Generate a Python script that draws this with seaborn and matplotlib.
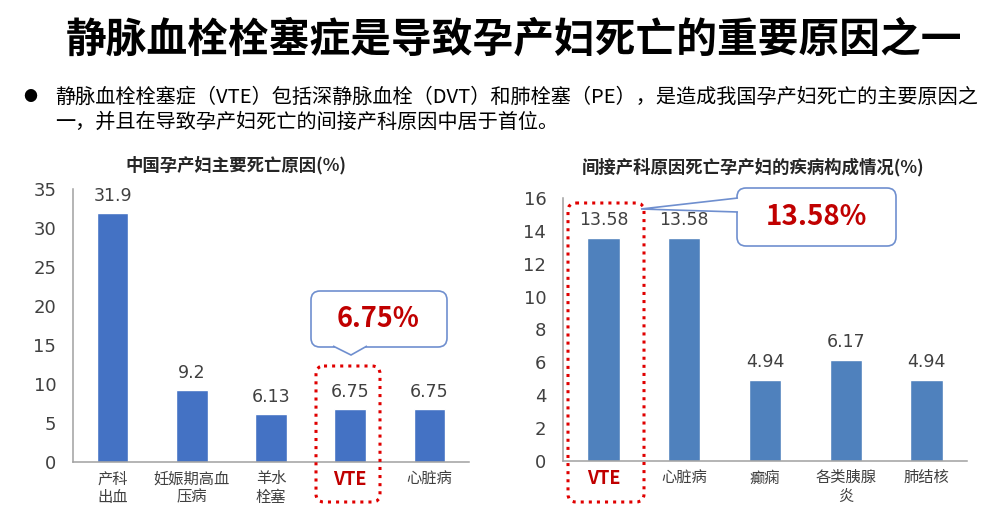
import matplotlib
matplotlib.use("Agg")
import matplotlib.pyplot as plt
import seaborn as sns
from matplotlib.patches import FancyBboxPatch, Polygon

# 数据
left_cats = ["产科\n出血", "妊娠期高血\n压病", "羊水\n栓塞", "VTE", "心脏病"]
left_vals = [31.9, 9.2, 6.13, 6.75, 6.75]
left_labels = ["31.9", "9.2", "6.13", "6.75", "6.75"]

right_cats = ["VTE", "心脏病", "癫痫", "各类胰腺\n炎", "肺结核"]
right_vals = [13.58, 13.58, 4.94, 6.17, 4.94]
right_labels = ["13.58", "13.58", "4.94", "6.17", "4.94"]

title = "静脉血栓栓塞症是导致孕产妇死亡的重要原因之一"
bullet_1 = "静脉血栓栓塞症（VTE）包括深静脉血栓（DVT）和肺栓塞（PE），是造成我国孕产妇死亡的主要原因之"
bullet_2 = "一，并且在导致孕产妇死亡的间接产科原因中居于首位。"

sns.set_style("white")
plt.rcParams["font.family"] = ["Noto Sans CJK SC", "DejaVu Sans"]

W, H = 1000, 526
fig = plt.figure(figsize=(W / 100, H / 100), dpi=100)


def px_axes(x0, y0, x1, y1):
    # 像素坐标 (左上原点) -> figure 坐标
    return fig.add_axes([x0 / W, 1 - y1 / H, (x1 - x0) / W, (y1 - y0) / H])


def draw_bars(ax, cats, vals, labels, color, ymax, step):
    sns.barplot(x=cats, y=vals, color=color, width=0.4, saturation=1, ax=ax)
    ax.set_ylim(0, ymax)
    ax.set_xlim(-0.5, len(cats) - 0.5)
    ax.set_yticks(range(0, ymax + 1, step))
    ax.set_xticks([i - 0.5 for i in range(len(cats) + 1)], minor=True)
    ax.tick_params(axis="x", which="major", length=0, pad=6)
    ax.tick_params(axis="x", which="minor", length=6, width=1.1, color="#A0A0A0", direction="out")
    ax.tick_params(axis="y", length=7, width=1.1, color="#A0A0A0", direction="out", pad=5)
    for lab in ax.get_yticklabels():
        lab.set_family("DejaVu Sans")
        lab.set_fontsize(13)
        lab.set_color("#404040")
    for lab in ax.get_xticklabels():
        lab.set_fontsize(11)
        lab.set_color("#404040")
        lab.set_linespacing(1.1)
        if lab.get_text() == "VTE":
            lab.set_color("#C00000")
            lab.set_fontweight("bold")
            lab.set_fontsize(13)
    for s in ["top", "right"]:
        ax.spines[s].set_visible(False)
    for s in ["left", "bottom"]:
        ax.spines[s].set_color("#A0A0A0")
        ax.spines[s].set_linewidth(1.1)
    ax.set_xlabel("")
    ax.set_ylabel("")
    for i, (v, t) in enumerate(zip(vals, labels)):
        ax.annotate(t, (i, v), xytext=(0, 12.5), textcoords="offset points",
                    ha="center", va="center", fontsize=12.5, color="#404040",
                    family="DejaVu Sans")


ax1 = px_axes(73, 189, 469, 462)
draw_bars(ax1, left_cats, left_vals, left_labels, "#4472C4", 35, 5)

ax2 = px_axes(563, 198, 967, 461)
draw_bars(ax2, right_cats, right_vals, right_labels, "#4F81BD", 16, 2)

# 覆盖层，像素坐标
ov = fig.add_axes([0, 0, 1, 1], zorder=10)
ov.set_xlim(0, W)
ov.set_ylim(H, 0)
ov.axis("off")
ov.patch.set_alpha(0)

ov.text(514, 40, title, ha="center", va="center", fontsize=29.3, fontweight="bold", color="#000000")
ov.text(30, 97, "●", ha="center", va="center", fontsize=10, color="#000000")
ov.text(55, 97, bullet_1, ha="left", va="center", fontsize=14.5, color="#000000")
ov.text(55, 122, bullet_2, ha="left", va="center", fontsize=14.5, color="#000000")

ov.text(236, 165, "中国孕产妇主要死亡原因(%)", ha="center", va="center", fontsize=12.5, fontweight="bold")
ov.text(753, 167, "间接产科原因死亡孕产妇的疾病构成情况(%)", ha="center", va="center", fontsize=12.5, fontweight="bold")

box_ec = "#6F8FCF"


def rbox(x0, y0, x1, y1, ec, ls="-", lw=1.2, r=9):
    p = FancyBboxPatch((x0 + r, y0 + r), x1 - x0 - 2 * r, y1 - y0 - 2 * r,
                       boxstyle=f"round,pad={r}", fc="none" if ls != "-" else "white",
                       ec=ec, lw=lw, ls=ls)
    ov.add_patch(p)


# 左侧标注
rbox(311, 291, 447, 347, box_ec)
ov.add_patch(Polygon([(333, 346), (351, 355), (367, 346)], closed=False, fc="white", ec=box_ec, lw=1.2))
ov.text(378, 319, "6.75%", ha="center", va="center", fontsize=19.5, fontweight="bold", color="#C00000")
rbox(316, 366, 380, 502, "#E00000", ls=":", lw=2.2, r=8)

# 右侧标注
rbox(737, 188, 896, 246, box_ec)
ov.add_patch(Polygon([(738, 198), (641, 209), (738, 212)], closed=False, fc="white", ec=box_ec, lw=1.2))
ov.text(816, 217, "13.58%", ha="center", va="center", fontsize=20, fontweight="bold", color="#C00000")
rbox(568, 203, 644, 502, "#E00000", ls=":", lw=2.2, r=8)

fig.savefig("out.png", dpi=100)
